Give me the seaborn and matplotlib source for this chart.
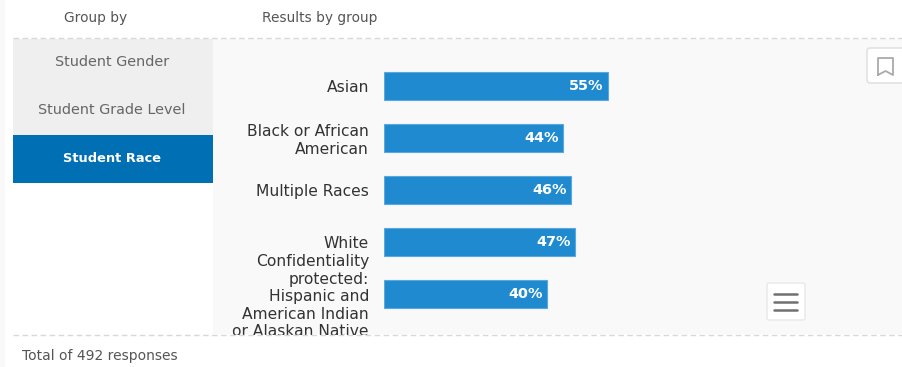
import pandas as pd
import matplotlib
matplotlib.use("Agg")
import matplotlib.pyplot as plt
from matplotlib.patches import Rectangle, FancyBboxPatch
import seaborn as sns

# chart values
groups = ["Asian", "Black or African\nAmerican", "Multiple Races", "White",
          "Confidentiality\nprotected:\nHispanic and\nAmerican Indian\nor Alaskan Native"]
percents = [55, 44, 46, 47, 40]
tabs = ["Student Gender", "Student Grade Level", "Student Race"]

W, H = 902, 367
sns.set_theme(style="white")
plt.rcParams['font.family'] = ['DejaVu Sans']

fig = plt.figure(figsize=(W / 100, H / 100), dpi=100, facecolor="white")

# page furniture in pixel coords
bg = fig.add_axes([0, 0, 1, 1], zorder=0)
bg.set_xlim(0, W)
bg.set_ylim(H, 0)
bg.axis("off")
bg.add_patch(Rectangle((0, 0), 5, H, color="#f9f9f9", lw=0))
bg.add_patch(Rectangle((213, 39), W - 213, 295, color="#f9f9f9", lw=0))
bg.add_patch(Rectangle((13, 39), 200, 96, color="#efefef", lw=0))
bg.add_patch(Rectangle((13, 135), 200, 48, color="#006fb3", lw=0))
bg.text(96, 18, "Group by", fontsize=9.9, color="#555555", ha="center", va="center")
bg.text(320, 18, "Results by group", fontsize=9.9, color="#555555", ha="center", va="center")
bg.text(112, 62, tabs[0], fontsize=10.4, color="#666666", ha="center", va="center")
bg.text(112, 110, tabs[1], fontsize=10.4, color="#666666", ha="center", va="center")
bg.text(112, 158, tabs[2], fontsize=9.4, color="white", weight="bold", ha="center", va="center")
bg.text(22, 356, "Total of 492 responses", fontsize=10, color="#555555", ha="left", va="center")

# the bars
df = pd.DataFrame({"group": groups, "percent": percents})
left, top, width, height = 384, 60, 407, 260
ax = fig.add_axes([left / W, 1 - (top + height) / H, width / W, height / H], zorder=1)
ax.patch.set_alpha(0)
sns.barplot(data=df, x="percent", y="group", color="#1f8ad0", saturation=1, width=0.54,
            edgecolor="#5aa9de", linewidth=0.8, ax=ax)
ax.set_xlim(0, 100)
ax.set_ylim(4.5, -0.5)
ax.set_xlabel("")
ax.set_ylabel("")
ax.set_xticks([])
ax.tick_params(axis="y", length=0, pad=10.8, labelsize=11.2, labelcolor="#333333")
sns.despine(ax=ax, left=True, bottom=True)
for lab in ax.get_yticklabels():
    lab.set_linespacing(1.2)
    lab.set_multialignment("right")

labels = ax.bar_label(ax.containers[0], fmt="%d%%", padding=-3, color="white",
                      fontsize=10.4, weight="bold")
for t in labels:
    t.set_ha("right")

# covers the overflowing label and carries the dashes and buttons
top_ax = fig.add_axes([0, 0, 1, 1], zorder=2)
top_ax.set_xlim(0, W)
top_ax.set_ylim(H, 0)
top_ax.axis("off")
top_ax.patch.set_alpha(0)
top_ax.add_patch(Rectangle((5, 335), W, 14, color="white", lw=0))
top_ax.plot([13, W], [38, 38], color="#d8d8d8", lw=1, ls=(0, (4, 2.5)))
top_ax.plot([13, W], [334.5, 334.5], color="#d8d8d8", lw=1, ls=(0, (4, 2.5)))

top_ax.add_patch(FancyBboxPatch((867, 48), 42, 35, boxstyle="round,pad=0,rounding_size=3",
                                fc="white", ec="#dddddd", lw=1))
top_ax.plot([878, 878, 893, 893, 885.5, 878], [75, 58, 58, 75, 71, 75], color="#aaaaaa", lw=1.3)

top_ax.add_patch(FancyBboxPatch((767, 283), 38, 37, boxstyle="round,pad=0,rounding_size=2",
                                fc="white", ec="#e8e8e8", lw=1))
for y in [294, 302, 310]:
    top_ax.plot([774, 797], [y, y], color="#707070", lw=1.8)

fig.savefig("out.png", dpi=100, facecolor="white")
